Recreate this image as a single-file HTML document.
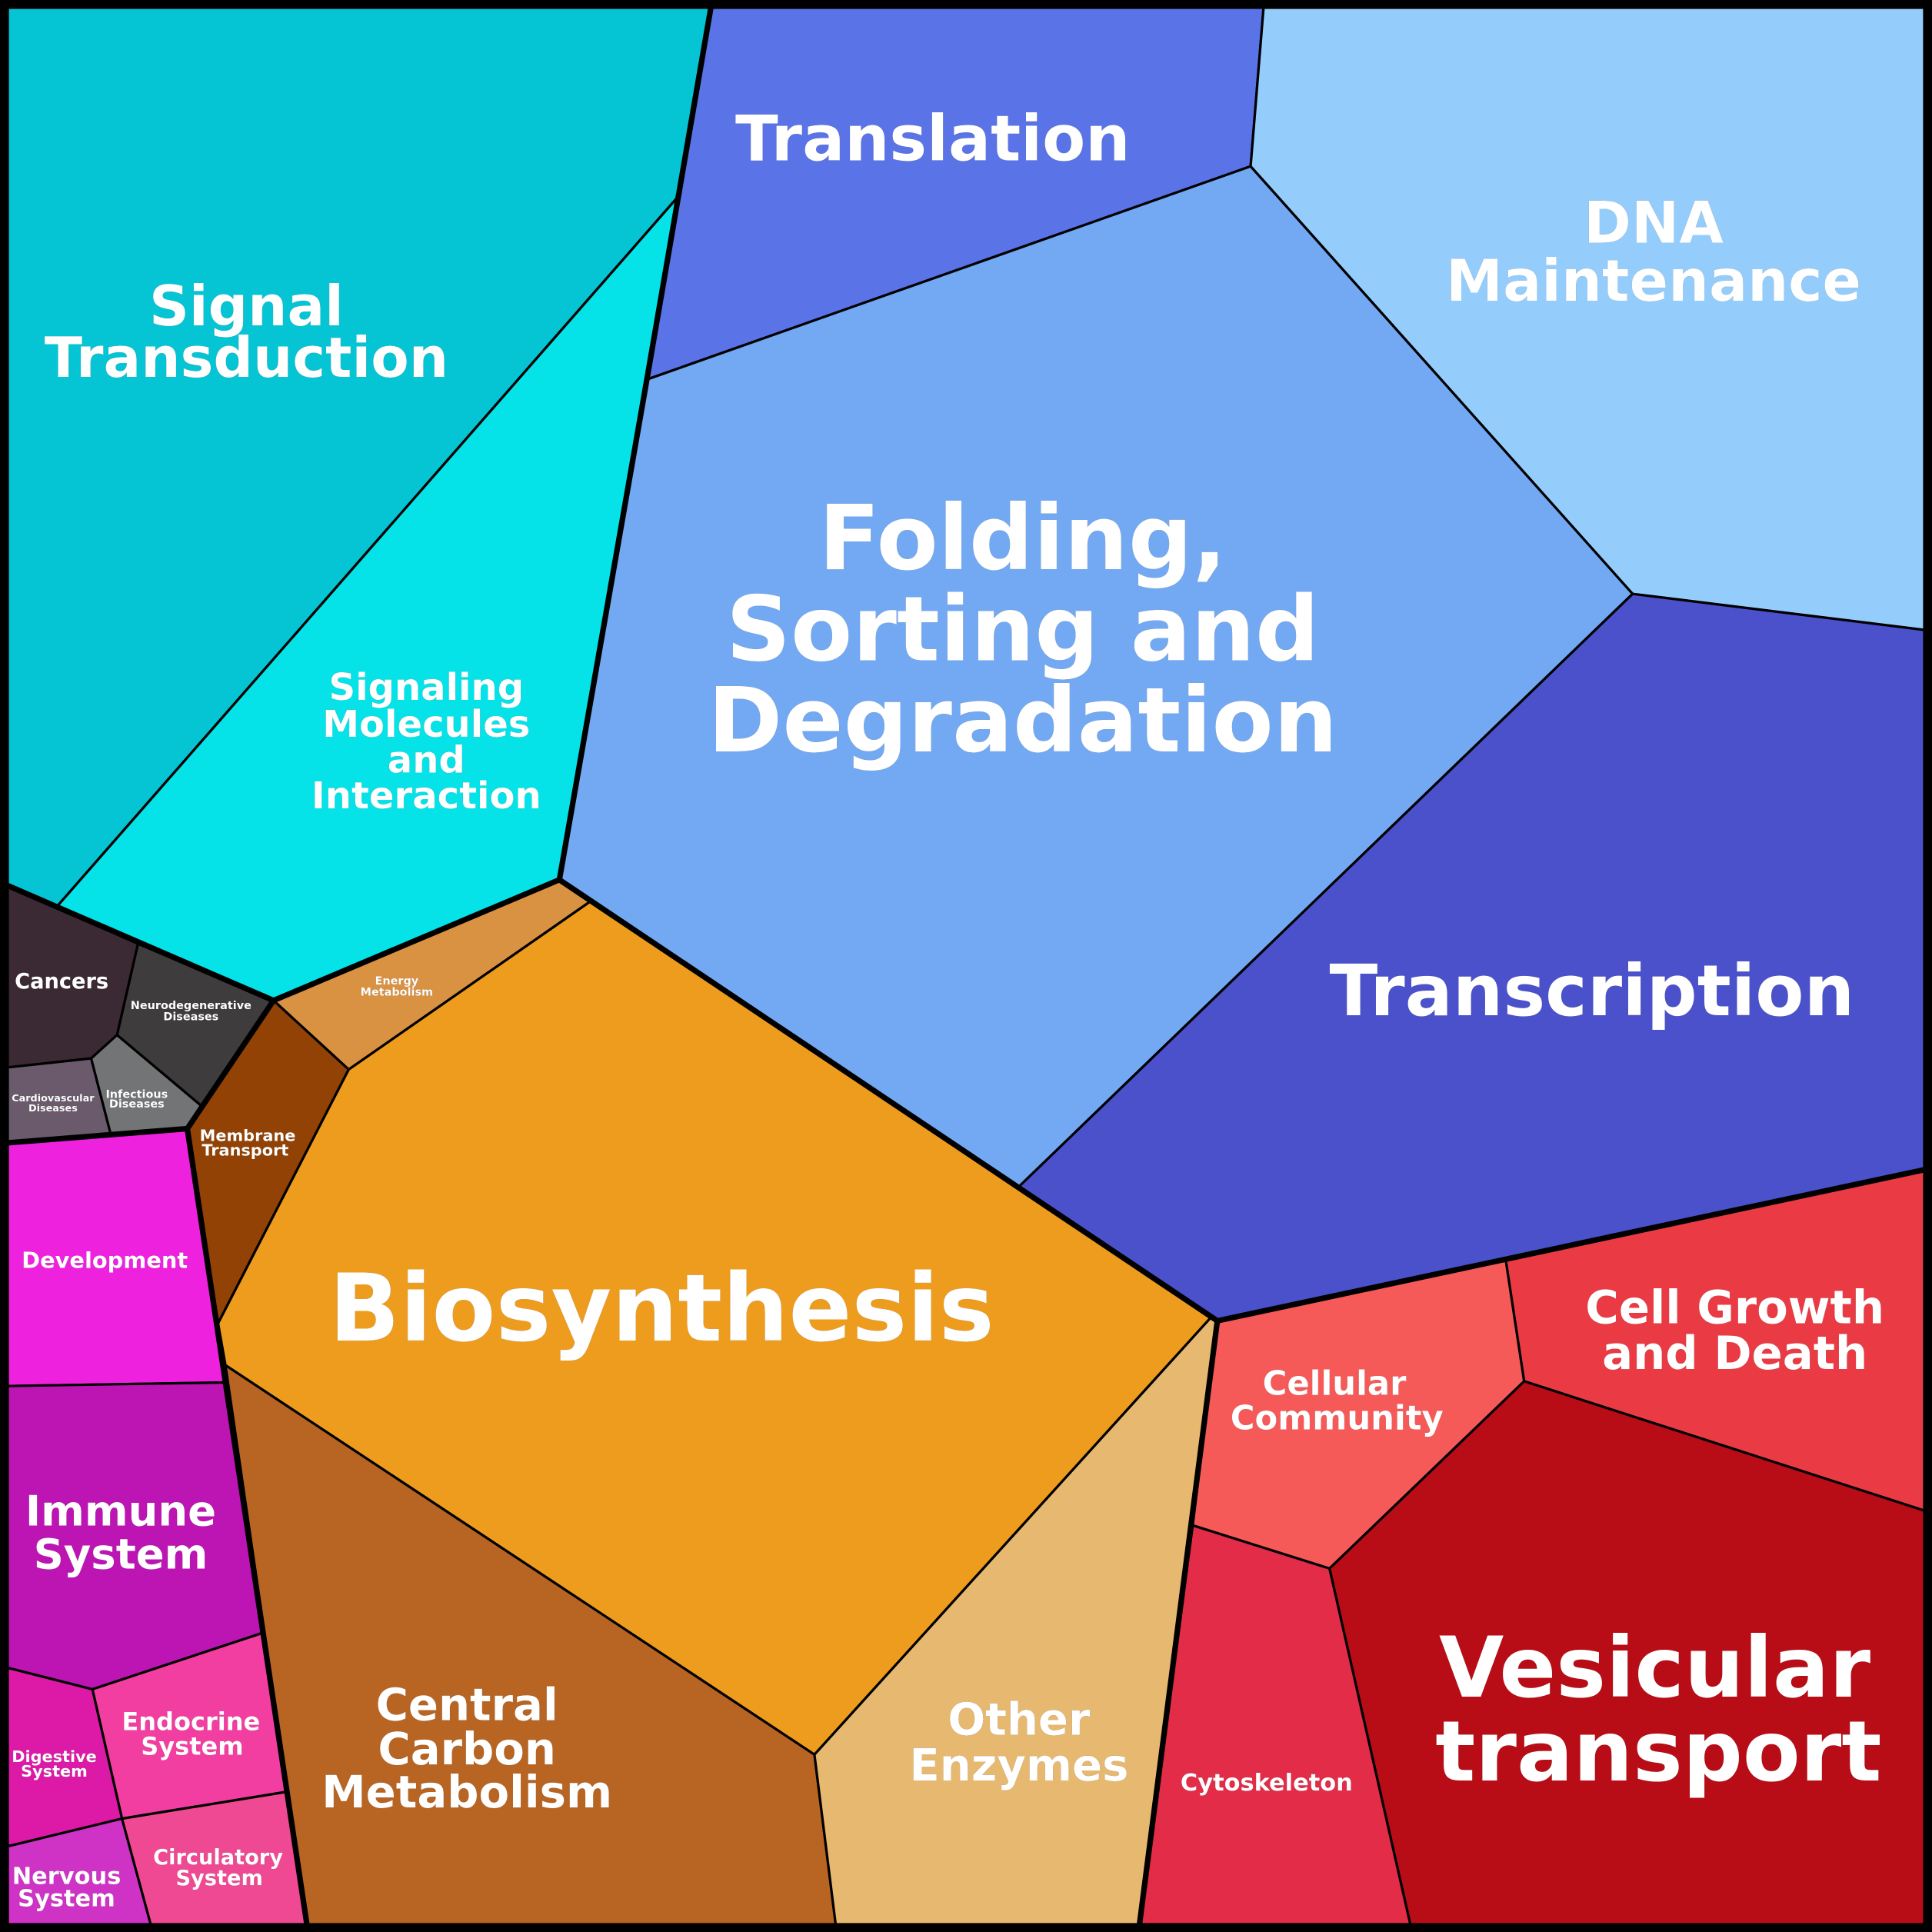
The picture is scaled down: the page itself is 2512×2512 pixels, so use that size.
<!DOCTYPE html>
<html><head><meta charset="utf-8">
<style>
html,body{margin:0;padding:0;background:#000;}
svg{display:block;}
text{font-family:"DejaVu Sans","Liberation Sans",sans-serif;font-weight:bold;fill:#fff;text-anchor:middle;filter:drop-shadow(0.8px 0.8px 0 #222);}
</style></head><body>
<svg width="2512" height="2512" viewBox="0 0 1568 1568" xmlns="http://www.w3.org/2000/svg">
<g stroke="#000" stroke-width="2" stroke-linejoin="round">
<polygon fill="#05c4d4" points="0,0 578,0 550,160 46,736 0,716"/>
<polygon fill="#05e2e8" points="550,160 525,308 454,714 222,812 46,736"/>
<polygon fill="#5a73e6" points="578,0 1026,0 1015,135 525,308 550,160"/>
<polygon fill="#94cdfc" points="1026,0 1568,0 1568,512 1325,482 1015,135"/>
<polygon fill="#72a9f2" points="1015,135 1325,482 826,964 454,714 525,308"/>
<polygon fill="#4a51cb" points="1325,482 1568,512 1568,948 988,1072 826,964"/>
<polygon fill="#d99142" points="222,812 454,714 480,731 283,868"/>
<polygon fill="#914204" points="222,812 283,868 177,1074 152,916"/>
<polygon fill="#ee9c1e" points="480,731 826,964 983,1069 661,1424 183,1108 177,1074 283,868"/>
<polygon fill="#b86422" points="183,1108 661,1424 679,1568 250,1568"/>
<polygon fill="#e7b86f" points="983,1069 988,1072 968,1238 924,1568 679,1568 661,1424"/>
<polygon fill="#f65a58" points="988,1072 1222,1022 1237,1121 1079,1273 968,1238"/>
<polygon fill="#ea3b45" points="1222,1022 1568,948 1568,1228 1237,1121"/>
<polygon fill="#b80c16" points="1237,1121 1568,1228 1568,1568 1146,1568 1079,1273"/>
<polygon fill="#e22c48" points="968,1238 1079,1273 1146,1568 924,1568"/>
<polygon fill="#3b2a33" points="0,716 46,736 112,766 95,840 74,859 0,867"/>
<polygon fill="#3e3c3d" points="112,766 222,812 164,898 95,840"/>
<polygon fill="#6a5a6c" points="0,867 74,859 90,921 0,928"/>
<polygon fill="#737475" points="74,859 95,840 164,898 152,916 90,921"/>
<polygon fill="#ee22de" points="0,928 152,916 182,1122 0,1125"/>
<polygon fill="#bd14b4" points="0,1125 182,1122 214,1325 75,1371 0,1352"/>
<polygon fill="#f23ea0" points="75,1371 214,1325 234,1454 99,1476"/>
<polygon fill="#dd1aa8" points="0,1352 75,1371 99,1476 0,1500"/>
<polygon fill="#ce33c6" points="0,1500 99,1476 124,1568 0,1568"/>
<polygon fill="#f04993" points="99,1476 234,1454 250,1568 124,1568"/>
</g>
<g stroke="#000" stroke-width="4.5" fill="none" stroke-linejoin="round">
<polyline points="0,716 222,812 454,714 525,308 578,0"/>
<polyline points="454,714 988,1072 1568,948"/>
<polyline points="988,1072 924,1568"/>
<polyline points="222,812 152,916 0,928"/>
<polyline points="152,916 250,1568"/>
</g>
<rect x="3.5" y="3.5" width="1561" height="1561" fill="none" stroke="#000" stroke-width="7.5"/>

<text font-size="45"><tspan x="200" y="264">Signal</tspan><tspan x="200" y="306">Transduction</tspan></text>
<text font-size="51" x="757" y="130">Translation</text>
<text font-size="46.5"><tspan x="1342" y="197">DNA</tspan><tspan x="1342" y="244">Maintenance</tspan></text>
<text font-size="73"><tspan x="830" y="462">Folding,</tspan><tspan x="830" y="536">Sorting and</tspan><tspan x="830" y="610">Degradation</tspan></text>
<text font-size="30"><tspan x="346" y="568">Signaling</tspan><tspan x="346" y="598">Molecules</tspan><tspan x="346" y="627">and</tspan><tspan x="346" y="656">Interaction</tspan></text>
<text font-size="57.5" x="1292" y="824">Transcription</text>
<text font-size="75.5" x="537" y="1088">Biosynthesis</text>
<text font-size="36"><tspan x="379" y="1396">Central</tspan><tspan x="379" y="1432">Carbon</tspan><tspan x="379" y="1467">Metabolism</tspan></text>
<text font-size="36"><tspan x="827" y="1408">Other</tspan><tspan x="827" y="1445">Enzymes</tspan></text>
<text font-size="27"><tspan x="1083" y="1132">Cellular</tspan><tspan x="1085" y="1160">Community</tspan></text>
<text font-size="37"><tspan x="1408" y="1074">Cell Growth</tspan><tspan x="1408" y="1111">and Death</tspan></text>
<text font-size="68"><tspan x="1343" y="1377">Vesicular</tspan><tspan x="1346" y="1445">transport</tspan></text>
<text font-size="19" x="1028" y="1453">Cytoskeleton</text>
<text font-size="17" x="50" y="802">Cancers</text>
<text font-size="9"><tspan x="155" y="819">Neurodegenerative</tspan><tspan x="155" y="828">Diseases</tspan></text>
<text font-size="8"><tspan x="43" y="894">Cardiovascular</tspan><tspan x="43" y="902">Diseases</tspan></text>
<text font-size="9"><tspan x="111" y="891">Infectious</tspan><tspan x="111" y="899">Diseases</tspan></text>
<text font-size="9"><tspan x="322" y="799">Energy</tspan><tspan x="322" y="808">Metabolism</tspan></text>
<text font-size="13"><tspan x="201" y="926">Membrane</tspan><tspan x="199" y="938">Transport</tspan></text>
<text font-size="18" x="85" y="1029">Development</text>
<text font-size="34"><tspan x="98" y="1238">Immune</tspan><tspan x="98" y="1273">System</tspan></text>
<text font-size="20"><tspan x="155" y="1404">Endocrine</tspan><tspan x="156" y="1424">System</tspan></text>
<text font-size="13"><tspan x="44" y="1430">Digestive</tspan><tspan x="44" y="1442">System</tspan></text>
<text font-size="17"><tspan x="177" y="1513">Circulatory</tspan><tspan x="178" y="1530">System</tspan></text>
<text font-size="19"><tspan x="54" y="1529">Nervous</tspan><tspan x="54" y="1547">System</tspan></text>
</svg>
</body></html>
